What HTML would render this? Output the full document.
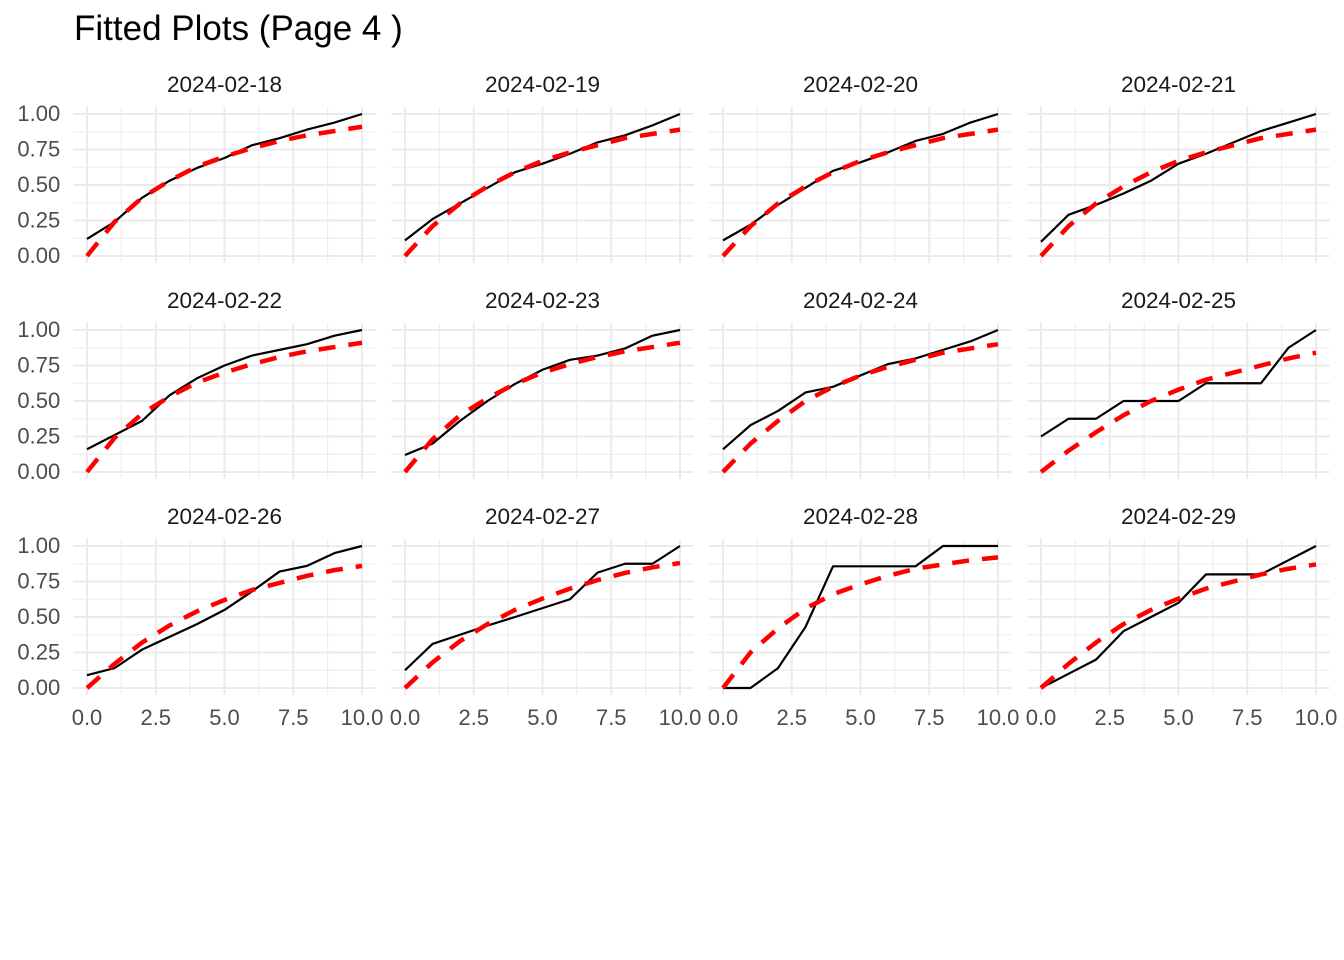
<!DOCTYPE html>
<html><head><meta charset="utf-8"><style>
body{margin:0;background:#fff;}
svg{display:block;font-family:"Liberation Sans",Arial,sans-serif;}
</style></head><body>
<svg id="chart" width="1344" height="960">
<rect width="1344" height="960" fill="#fff"/>
<text x="74" y="40" font-size="35" fill="#000">Fitted Plots (Page 4 )</text>
<g id="panels"></g>
</svg>
<script>
const dates=["2024-02-18","2024-02-19","2024-02-20","2024-02-21","2024-02-22","2024-02-23","2024-02-24","2024-02-25","2024-02-26","2024-02-27","2024-02-28","2024-02-29"];
const xValues=[0,1,2,3,4,5,6,7,8,9,10];
const xTicks=[0,2.5,5,7.5,10];
const xTickLabels=["0.0","2.5","5.0","7.5","10.0"];
const yTicks=[0,0.25,0.5,0.75,1];
const yTickLabels=["0.00","0.25","0.50","0.75","1.00"];
const observed=[
[0.12,0.24,0.41,0.53,0.62,0.69,0.78,0.83,0.89,0.94,1],
[0.11,0.26,0.37,0.48,0.59,0.65,0.72,0.80,0.85,0.92,1],
[0.11,0.22,0.36,0.48,0.60,0.66,0.73,0.81,0.86,0.94,1],
[0.10,0.29,0.36,0.44,0.53,0.65,0.72,0.80,0.88,0.94,1],
[0.16,0.26,0.36,0.54,0.66,0.75,0.82,0.86,0.90,0.96,1],
[0.12,0.20,0.36,0.50,0.62,0.72,0.79,0.82,0.87,0.96,1],
[0.16,0.33,0.43,0.56,0.60,0.68,0.76,0.80,0.86,0.92,1],
[0.25,0.375,0.375,0.5,0.5,0.5,0.625,0.625,0.625,0.875,1],
[0.09,0.14,0.27,0.36,0.45,0.55,0.68,0.82,0.86,0.95,1],
[0.125,0.31,0.375,0.44,0.5,0.5625,0.625,0.8125,0.875,0.875,1],
[0,0,0.14,0.43,0.857,0.857,0.857,0.857,1,1,1],
[0,0.1,0.2,0.4,0.5,0.6,0.8,0.8,0.8,0.9,1]];
const fitted=[
[0,0.24,0.41,0.53,0.63,0.70,0.76,0.81,0.85,0.88,0.91],
[0,0.21,0.37,0.49,0.59,0.67,0.73,0.78,0.83,0.86,0.89],
[0,0.21,0.37,0.49,0.59,0.67,0.73,0.78,0.83,0.86,0.89],
[0,0.21,0.37,0.49,0.59,0.67,0.73,0.78,0.83,0.86,0.89],
[0,0.24,0.41,0.53,0.63,0.70,0.76,0.81,0.85,0.88,0.91],
[0,0.23,0.40,0.52,0.62,0.70,0.76,0.81,0.85,0.88,0.91],
[0,0.20,0.36,0.50,0.60,0.68,0.74,0.79,0.84,0.87,0.90],
[0,0.15,0.28,0.40,0.50,0.58,0.65,0.70,0.75,0.80,0.84],
[0,0.17,0.32,0.44,0.54,0.62,0.69,0.74,0.79,0.83,0.86],
[0,0.18,0.33,0.45,0.55,0.63,0.70,0.76,0.81,0.85,0.88],
[0,0.25,0.42,0.56,0.66,0.73,0.79,0.84,0.87,0.90,0.92],
[0,0.17,0.32,0.45,0.55,0.63,0.70,0.75,0.80,0.84,0.87]];

const NS="http://www.w3.org/2000/svg";
const root=document.getElementById('panels');
function mk(tag,attrs,parent){const e=document.createElementNS(NS,tag);for(const k in attrs)e.setAttribute(k,attrs[k]);parent.appendChild(e);return e;}
dates.forEach((d,i)=>{
  const col=i%4,row=Math.floor(i/4);
  const x0=87+col*318, y0=256+row*216;
  const sx=v=>x0+v*27.5, sy=v=>y0-v*142;
  const g=mk('g',{},root);
  
  
  const L=sx(-0.5),R=sx(10.5),T=sy(1.05),B=sy(-0.05);
  for(let k=0;k<4;k++){const v=xTicks[k]+1.25;const l=mk('line',{x1:sx(v),x2:sx(v),y1:T,y2:B,stroke:'#ebebeb','stroke-width':1},g);}
  for(let k=0;k<4;k++){const v=yTicks[k]+0.125;const l=mk('line',{x1:L,x2:R,y1:sy(v),y2:sy(v),stroke:'#ebebeb','stroke-width':1},g);}
  xTicks.forEach(v=>{const l=mk('line',{x1:sx(v),x2:sx(v),y1:T,y2:B,stroke:'#ebebeb','stroke-width':2},g);});
  yTicks.forEach(v=>{const l=mk('line',{x1:L,x2:R,y1:sy(v),y2:sy(v),stroke:'#ebebeb','stroke-width':2},g);});
  const st=mk('text',{x:(L+R)/2,y:sy(1.05)-15,'font-size':22.5,'text-anchor':'middle',fill:'#1a1a1a'},g);st.textContent=d;
  
  
  if(col===0){yTicks.forEach((v,k)=>{const t=mk('text',{x:L-13,y:sy(v)+7,'font-size':22,'text-anchor':'end',fill:'#4d4d4d'},g);t.textContent=yTickLabels[k];});}
  if(row===2){xTicks.forEach((v,k)=>{const t=mk('text',{x:sx(v),y:B+30,'font-size':22,'text-anchor':'middle',fill:'#4d4d4d'},g);t.textContent=xTickLabels[k];});}
  const op=mk('polyline',{points:xValues.map((x,k)=>sx(x)+','+sy(observed[i][k])).join(' '),fill:'none',stroke:'#000','stroke-width':2.2,'stroke-linejoin':'round'},g);
  
  
  const fp=mk('polyline',{points:xValues.map((x,k)=>sx(x)+','+sy(fitted[i][k])).join(' '),fill:'none',stroke:'#ff0000','stroke-width':4.5,'stroke-dasharray':'17 13'},g);
  
  
});
</script>
</body></html>
